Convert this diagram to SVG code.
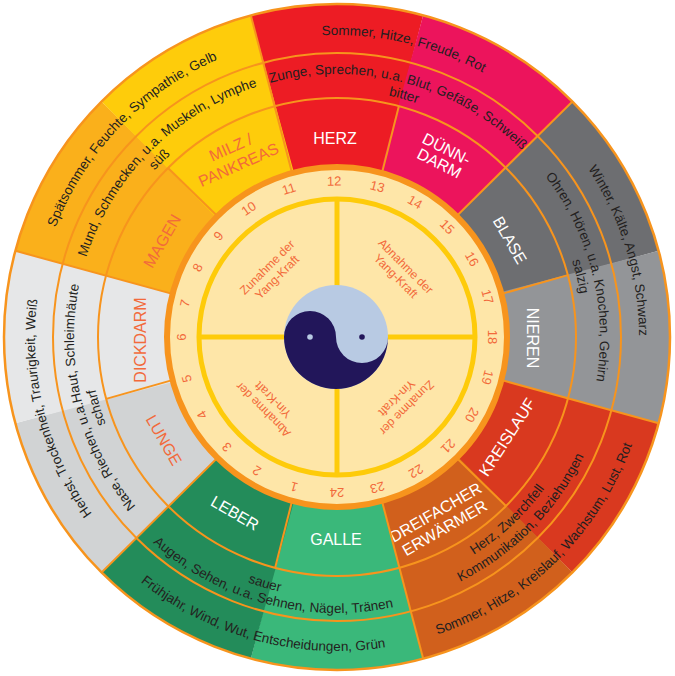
<svg xmlns="http://www.w3.org/2000/svg" xmlns:xlink="http://www.w3.org/1999/xlink" width="675" height="676" viewBox="0 0 675 676">
<style>
.ln{fill:none;stroke:#F7941D;stroke-width:2}
.t{font-family:'Liberation Sans',Arial,sans-serif;font-size:13.5px;fill:#231F20;text-anchor:middle}
.org{font-family:'Liberation Sans',Arial,sans-serif;font-size:16px;text-anchor:middle}
.w{fill:#FFFFFF}
.o{fill:#F26A3B}
.num{font-family:'Liberation Sans',Arial,sans-serif;font-size:13px;fill:#F26A3B;text-anchor:middle}
.q{font-family:'Liberation Sans',Arial,sans-serif;font-size:12px;fill:#F26A3B;text-anchor:middle}
</style>
<defs>
<path id="sec" d="M250.81,15.35 A333,333 0 0 1 423.19,15.35 L382,172.79 A170,170 0 0 0 292,172.79 Z"/>
<line id="eb" x1="292" y1="172.79" x2="250.81" y2="15.35"/>
<line id="ob" x1="382" y1="172.79" x2="398.86" y2="106.14"/>
<path id="cw302" d="M337,639 A302,302 0 0 1 337,35 A302,302 0 0 1 337,639"/>
<path id="cw263" d="M337,600 A263,263 0 0 1 337,74 A263,263 0 0 1 337,600"/>
<path id="cw247" d="M337,584 A247,247 0 0 1 337,90 A247,247 0 0 1 337,584"/>
<path id="ccw314" d="M337,23 A314,314 0 0 0 337,651 A314,314 0 0 0 337,23"/>
<path id="ccw276" d="M337,61 A276,276 0 0 0 337,613 A276,276 0 0 0 337,61"/>
<path id="ccw261" d="M337,76 A261,261 0 0 0 337,598 A261,261 0 0 0 337,76"/>
<path id="ccw274" d="M337,63 A274,274 0 0 0 337,611 A274,274 0 0 0 337,63"/>
<path id="ccw257" d="M337,80 A257,257 0 0 0 337,594 A257,257 0 0 0 337,80"/>
</defs>
<rect x="0" y="0" width="675" height="676" fill="#FFFFFF"/>

<g id="herz"><use xlink:href="#sec" fill="#ED1C24"/><text class="org w" transform="translate(335,138.5)" y="5.7">HERZ</text></g>
<g id="duenndarm"><use xlink:href="#sec" fill="#EC145C" transform="rotate(30 337 337)"/><text class="org w" transform="translate(443,156) rotate(27)"><tspan x="0" y="-2.3">DÜNN-</tspan><tspan x="0" y="13.7">DARM</tspan></text></g>
<g id="blase"><use xlink:href="#sec" fill="#6D6E71" transform="rotate(60 337 337)"/><text class="org w" transform="translate(510,240) rotate(60)" y="5.7">BLASE</text></g>
<g id="nieren"><use xlink:href="#sec" fill="#939598" transform="rotate(90 337 337)"/><text class="org w" transform="translate(533,338) rotate(90)" y="5.7">NIEREN</text></g>
<g id="kreislauf"><use xlink:href="#sec" fill="#D9391F" transform="rotate(120 337 337)"/><text class="org w" transform="translate(507,437) rotate(-57)" y="5.7">KREISLAUF</text></g>
<g id="dreifacher-erwaermer"><use xlink:href="#sec" fill="#D1601C" transform="rotate(150 337 337)"/><text class="org w" transform="translate(440,520) rotate(-30)"><tspan x="0" y="-3.3">DREIFACHER</tspan><tspan x="0" y="14.7">ERWÄRMER</tspan></text></g>
<g id="galle"><use xlink:href="#sec" fill="#3AB87A" transform="rotate(180 337 337)"/><text class="org w" transform="translate(336,539)" y="5.7">GALLE</text></g>
<g id="leber"><use xlink:href="#sec" fill="#238C5A" transform="rotate(210 337 337)"/><text class="org w" transform="translate(235,513) rotate(30)" y="5.7">LEBER</text></g>
<g id="lunge"><use xlink:href="#sec" fill="#D1D3D4" transform="rotate(240 337 337)"/><text class="org o" transform="translate(164,440) rotate(60)" y="5.7">LUNGE</text></g>
<g id="dickdarm"><use xlink:href="#sec" fill="#E6E7E8" transform="rotate(270 337 337)"/><text class="org o" transform="translate(140,340) rotate(-90)" y="5.7">DICKDARM</text></g>
<g id="magen"><use xlink:href="#sec" fill="#FAB01B" transform="rotate(300 337 337)"/><text class="org o" transform="translate(162,241) rotate(-60)" y="5.7">MAGEN</text></g>
<g id="milz-pankreas"><use xlink:href="#sec" fill="#FECC0B" transform="rotate(330 337 337)"/><text class="org o" transform="translate(234.5,156) rotate(-24)"><tspan x="0" y="-3.8">MILZ /</tspan><tspan x="0" y="15.2">PANKREAS</tspan></text></g>

<g id="connectors" class="ln">
<circle cx="337" cy="337" r="239"/>
<circle cx="337" cy="337" r="284"/>
<circle cx="337" cy="337" r="333" stroke-width="2.5"/>
<use xlink:href="#eb"/>
<use xlink:href="#eb" transform="rotate(60 337 337)"/>
<use xlink:href="#eb" transform="rotate(120 337 337)"/>
<use xlink:href="#eb" transform="rotate(180 337 337)"/>
<use xlink:href="#eb" transform="rotate(240 337 337)"/>
<use xlink:href="#eb" transform="rotate(300 337 337)"/>
<use xlink:href="#ob"/>
<use xlink:href="#ob" transform="rotate(60 337 337)"/>
<use xlink:href="#ob" transform="rotate(120 337 337)"/>
<use xlink:href="#ob" transform="rotate(180 337 337)"/>
<use xlink:href="#ob" transform="rotate(240 337 337)"/>
<use xlink:href="#ob" transform="rotate(300 337 337)"/>
</g>

<g id="feuer-texte">
<text class="t" transform="rotate(13 337 337)"><textPath xlink:href="#cw302" startOffset="50%">Sommer, Hitze, Freude, Rot</textPath></text>
<text class="t" transform="rotate(15 337 337)"><textPath xlink:href="#cw263" startOffset="50%">Zunge, Sprechen, u.a. Blut, Gefäße, Schweiß</textPath></text>
<text class="t" transform="rotate(15.5 337 337)"><textPath xlink:href="#cw247" startOffset="50%">bitter</textPath></text>
</g>
<g id="erde-texte">
<text class="t" transform="rotate(314 337 337)"><textPath xlink:href="#cw302" startOffset="50%">Spätsommer, Feuchte, Sympathie, Gelb</textPath></text>
<text class="t" transform="rotate(315 337 337)"><textPath xlink:href="#cw263" startOffset="50%">Mund, Schmecken, u.a. Muskeln, Lymphe</textPath></text>
<text class="t" transform="rotate(315 337 337)"><textPath xlink:href="#cw247" startOffset="50%">süß</textPath></text>
</g>
<g id="wasser-texte">
<text class="t" transform="rotate(73 337 337)"><textPath xlink:href="#cw302" startOffset="50%">Winter, Kälte, Angst, Schwarz</textPath></text>
<text class="t" transform="rotate(76 337 337)"><textPath xlink:href="#cw263" startOffset="50%">Ohren, Hören, u.a. Knochen, Gehirn</textPath></text>
<text class="t" transform="rotate(76 337 337)"><textPath xlink:href="#cw247" startOffset="50%">salzig</textPath></text>
</g>
<g id="metall-texte">
<text class="t" transform="rotate(255.7 337 337)"><textPath xlink:href="#cw302" startOffset="50%">Herbst, Trockenheit, Traurigkeit, Weiß</textPath></text>
<text class="t" transform="rotate(255.7 337 337)"><textPath xlink:href="#cw263" startOffset="50%">Nase, Riechen, u.a.Haut, Schleimhäute</textPath></text>
<text class="t" transform="rotate(253.6 337 337)"><textPath xlink:href="#cw247" startOffset="50%">scharf</textPath></text>
</g>
<g id="feuer2-texte">
<text class="t" transform="rotate(-44.3 337 337)"><textPath xlink:href="#ccw314" startOffset="50%">Sommer, Hitze, Kreislauf, Wachstum, Lust, Rot</textPath></text>
<text class="t" transform="rotate(-43 337 337)"><textPath xlink:href="#ccw257" startOffset="50%">Herz, Zwerchfell</textPath></text>
<text class="t" transform="rotate(-45.5 337 337)"><textPath xlink:href="#ccw274" startOffset="50%">Kommunikation, Beziehungen</textPath></text>
</g>
<g id="holz-texte">
<text class="t" transform="rotate(14.9 337 337)"><textPath xlink:href="#ccw314" startOffset="50%">Frühjahr, Wind, Wut, Entscheidungen, Grün</textPath></text>
<text class="t" transform="rotate(16.3 337 337)"><textPath xlink:href="#ccw261" startOffset="50%">sauer</textPath></text>
<text class="t" transform="rotate(15 337 337)"><textPath xlink:href="#ccw276" startOffset="50%">Augen, Sehen, u.a. Sehnen, Nägel, Tränen</textPath></text>
</g>

<g id="uhr">
<circle cx="337" cy="337" r="170" fill="#FEE6A8" stroke="#F7941D" stroke-width="6"/>
<circle cx="337" cy="337" r="138" fill="none" stroke="#FECB0A" stroke-width="5"/>
<line x1="337" y1="199" x2="337" y2="475" stroke="#FECB0A" stroke-width="5"/>
<line x1="199" y1="337" x2="475" y2="337" stroke="#FECB0A" stroke-width="5"/>
<text class="num" x="337" y="185.6" transform="rotate(196 337 337)">1</text>
<text class="num" x="337" y="185.6" transform="rotate(211 337 337)">2</text>
<text class="num" x="337" y="185.6" transform="rotate(225 337 337)">3</text>
<text class="num" x="337" y="185.6" transform="rotate(240 337 337)">4</text>
<text class="num" x="337" y="185.6" transform="rotate(254.5 337 337)">5</text>
<text class="num" x="337" y="185.6" transform="rotate(270 337 337)">6</text>
<text class="num" x="337" y="185.6" transform="rotate(282.5 337 337)">7</text>
<text class="num" x="337" y="185.6" transform="rotate(296.5 337 337)">8</text>
<text class="num" x="337" y="185.6" transform="rotate(310.5 337 337)">9</text>
<text class="num" x="337" y="185.6" transform="rotate(325.5 337 337)">10</text>
<text class="num" x="337" y="185.6" transform="rotate(342 337 337)">11</text>
<text class="num" x="337" y="185.6" transform="rotate(359 337 337)">12</text>
<text class="num" x="337" y="185.6" transform="rotate(15 337 337)">13</text>
<text class="num" x="337" y="185.6" transform="rotate(30 337 337)">14</text>
<text class="num" x="337" y="185.6" transform="rotate(45 337 337)">15</text>
<text class="num" x="337" y="185.6" transform="rotate(60 337 337)">16</text>
<text class="num" x="337" y="185.6" transform="rotate(75 337 337)">17</text>
<text class="num" x="337" y="185.6" transform="rotate(90 337 337)">18</text>
<text class="num" x="337" y="185.6" transform="rotate(105 337 337)">19</text>
<text class="num" x="337" y="185.6" transform="rotate(120 337 337)">20</text>
<text class="num" x="337" y="185.6" transform="rotate(134.5 337 337)">21</text>
<text class="num" x="337" y="185.6" transform="rotate(149.5 337 337)">22</text>
<text class="num" x="337" y="185.6" transform="rotate(165 337 337)">23</text>
<text class="num" x="337" y="185.6" transform="rotate(180 337 337)">24</text>
</g>

<g id="quadranten">
<text class="q" transform="translate(272,272) rotate(-45)"><tspan x="0" y="-2.7">Zunahme der</tspan><tspan x="0" y="11.3">Yang-Kraft</tspan></text>
<text class="q" transform="translate(401,271) rotate(45)"><tspan x="0" y="-2.7">Abnahme der</tspan><tspan x="0" y="11.3">Yang-Kraft</tspan></text>
<text class="q" transform="translate(402,403) rotate(135)"><tspan x="0" y="-2.7">Zunahme der</tspan><tspan x="0" y="11.3">Yin-Kraft</tspan></text>
<text class="q" transform="translate(268,405) rotate(-135)"><tspan x="0" y="-2.7">Abnahme der</tspan><tspan x="0" y="11.3">Yin-Kraft</tspan></text>
</g>

<g id="yin-yang">
<circle cx="336" cy="337" r="52" fill="#B8CAE3"/>
<path d="M284,337 A52,52 0 0 0 388,337 A26,26 0 0 1 336,337 A26,26 0 0 0 284,337 Z" fill="#22165A"/>
<circle cx="310" cy="337" r="2.8" fill="#B8CAE3"/>
<circle cx="362" cy="337" r="2.8" fill="#22165A"/>
</g>
</svg>
